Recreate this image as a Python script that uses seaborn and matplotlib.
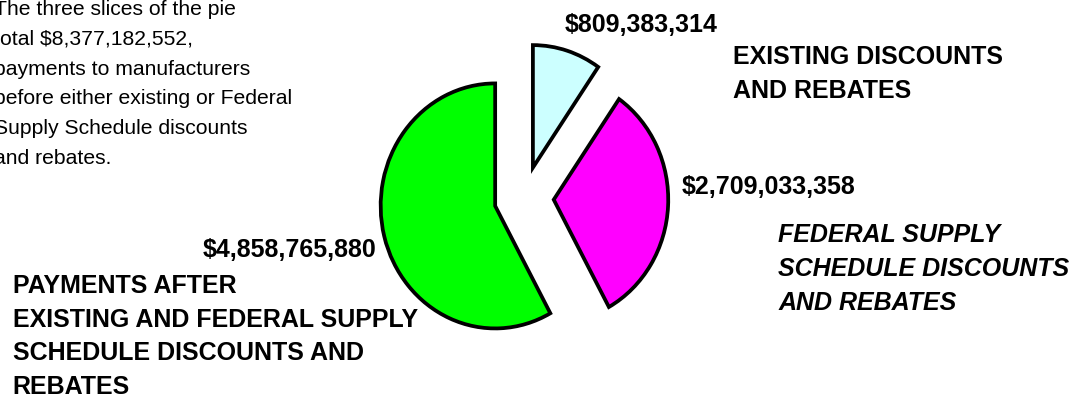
import matplotlib
matplotlib.use("Agg")
import matplotlib.pyplot as plt
import seaborn as sns

# Slice values (dollars), in drawing order starting at 12 o'clock, counter-clockwise
categories = [
    "PAYMENTS AFTER\nEXISTING AND FEDERAL SUPPLY\nSCHEDULE DISCOUNTS AND\nREBATES",
    "FEDERAL SUPPLY\nSCHEDULE DISCOUNTS\nAND REBATES",
    "EXISTING DISCOUNTS\nAND REBATES",
]
values = [4858765880, 2709033358, 809383314]
colors = ["#00FF00", "#FF00FF", "#CCFFFF"]

total = sum(values)
note_lines = [
    "The three slices of the pie",
    f"total ${total:,},",
    "payments to manufacturers",
    "before either existing or Federal",
    "Supply Schedule discounts",
    "and rebates.",
]

sns.set_theme(style="white")
plt.rcParams["font.family"] = ["Liberation Sans", "DejaVu Sans"]

W, H = 1078, 408
fig = plt.figure(figsize=(W / 100, H / 100), dpi=100)
fig.patch.set_facecolor("white")

# Pie axes: centre and radii in pixels
cx, cy = 524, 198
rx, ry = 114.5, 122.5
lim = 1.25
ax_pie = fig.add_axes([
    (cx - lim * rx) / W,
    (H - cy - lim * ry) / H,
    2 * lim * rx / W,
    2 * lim * ry / H,
])
wedges, _ = ax_pie.pie(
    values,
    colors=colors,
    startangle=90,
    counterclock=True,
    explode=[0.26] * len(values),
    wedgeprops=dict(edgecolor="black", linewidth=2.7, joinstyle="miter"),
)
for w in wedges:
    w.set_clip_on(False)
ax_pie.set_aspect("auto")
ax_pie.set_xlim(-lim, lim)
ax_pie.set_ylim(-lim, lim)
ax_pie.axis("off")

# Overlay axes in pixel units for the annotations
ax = fig.add_axes([0, 0, 1, 1])
ax.set_xlim(0, W)
ax.set_ylim(H, 0)
ax.axis("off")
ax.patch.set_alpha(0)

# Explanatory note, top-left
for i, line in enumerate(note_lines):
    ax.text(-6, 15 + 29.8 * i, line, fontsize=15.2, va="baseline", ha="left",
            color="black")

bold = dict(fontsize=18, fontweight="bold", va="baseline", ha="left", color="black")

def money(v):
    return f"${v:,}"

# Payments slice
ax.text(203, 257.3, money(values[0]), **bold)
for i, line in enumerate(categories[0].split("\n")):
    ax.text(12.7, 293.3 + 33.6 * i, line, **bold)

# Federal Supply Schedule slice
ax.text(682, 194, money(values[1]), **bold)
for i, line in enumerate(categories[1].split("\n")):
    ax.text(778.3, 242.3 + 34 * i, line, fontstyle="italic", **bold)

# Existing discounts slice
ax.text(565, 32.3, money(values[2]), **bold)
for i, line in enumerate(categories[2].split("\n")):
    ax.text(733.3, 64.3 + 34 * i, line, **bold)

fig.savefig("out.png", dpi=100, facecolor="white")
